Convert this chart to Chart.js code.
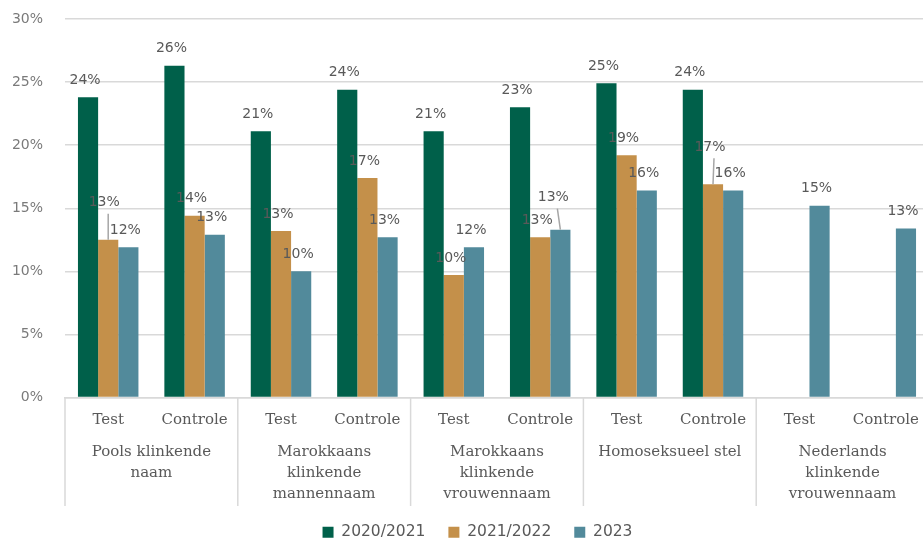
<!DOCTYPE html>
<html>
<head>
<meta charset="utf-8">
<script src="https://cdn.jsdelivr.net/npm/chart.js@4"></script>
<style>
  html, body { margin: 0; padding: 0; background: #fff; overflow: hidden; }
  #wrap { width: 940px; height: 550px; }
</style>
</head>
<body>
<div id="wrap"><canvas id="chart" width="940" height="550"></canvas></div>
<script>
//______________________________________________________
// data
var categories = ['Test', 'Controle', 'Test', 'Controle', 'Test', 'Controle',
                  'Test', 'Controle', 'Test', 'Controle'];
var groups = [
    ['Pools klinkende', 'naam'],
    ['Marokkaans', 'klinkende', 'mannennaam'],
    ['Marokkaans', 'klinkende', 'vrouwennaam'],
    ['Homoseksueel stel'],
    ['Nederlands', 'klinkende', 'vrouwennaam']
];
var seriesNames = ['2020/2021', '2021/2022', '2023'];
var values2021 = [23.8, 26.3, 21.1, 24.4, 21.1, 23.0, 24.9, 24.4, null, null];
var values2122 = [12.5, 14.4, 13.2, 17.4, 9.7, 12.7, 19.2, 16.9, null, null];
var values2023 = [11.9, 12.9, 10.0, 12.7, 11.9, 13.3, 16.4, 16.4, 15.2, 13.4];
var yTicks = [0, 5, 10, 15, 20, 25, 30];

const Colors = ['#00604A', '#C4904A', '#528A9B'];
const GridColor = '#d9d9d9';
const TextColor = '#595959';
// labels that were dragged up in the original, with a leader line
const MovedLabels = [
    {ds: 1, i: 0, lift: 20, dx: -4},
    {ds: 2, i: 5, lift: 15, dx: -7},
    {ds: 1, i: 7, lift: 20, dx: -3}
];

//______________________________________________________
const valueLabels = {
    id: 'valueLabels',
    afterDatasetsDraw(chart) {
        var ctx = chart.ctx;
        ctx.save();
        ctx.font = '14px "DejaVu Sans"';
        ctx.fillStyle = TextColor;
        ctx.textAlign = 'center';
        ctx.textBaseline = 'middle';
        chart.data.datasets.forEach(function(ds, d) {
            var meta = chart.getDatasetMeta(d);
            meta.data.forEach(function(bar, i) {
                var v = ds.data[i];
                if (v === null || v === undefined) return;
                var lift = 0, dx = -3, moved = null;
                MovedLabels.forEach(function(m) {
                    if (m.ds === d && m.i === i) { moved = m; lift = m.lift; dx = m.dx; }
                });
                var ly = bar.y - 17 - lift;
                if (moved) {
                    ctx.strokeStyle = '#a6a6a6';
                    ctx.lineWidth = 1.5;
                    ctx.beginPath();
                    ctx.moveTo(bar.x + dx + 4, ly + 11);
                    ctx.lineTo(bar.x, bar.y);
                    ctx.stroke();
                }
                ctx.fillText(Math.round(v) + '%', bar.x + dx, ly);
            });
        });
        ctx.restore();
    }
};
//______________________________________________________
const groupAxis = {
    id: 'groupAxis',
    afterLayout(chart) { // nudge the legend to where the original has it
        chart.legend.left += 13;
        chart.legend.right += 13;
    },
    afterDraw(chart) {
        var ctx = chart.ctx;
        var x = chart.scales.x;
        var area = chart.chartArea;
        var step = (x.getPixelForTick(1) - x.getPixelForTick(0)) * 2;
        ctx.save();
        ctx.strokeStyle = GridColor;
        ctx.lineWidth = 1.5;
        for (var g = 0; g < groups.length; g++) {
            var left = area.left + g * step;
            ctx.beginPath();
            ctx.moveTo(left, area.bottom);
            ctx.lineTo(left, 506);
            ctx.stroke();
        }
        ctx.font = '15px "DejaVu Serif"';
        ctx.fillStyle = TextColor;
        ctx.textAlign = 'center';
        ctx.textBaseline = 'middle';
        groups.forEach(function(lines, g) {
            var cx = (x.getPixelForTick(g * 2) + x.getPixelForTick(g * 2 + 1)) / 2;
            lines.forEach(function(line, k) {
                ctx.fillText(line, cx, 452 + k * 21);
            });
        });
        ctx.restore();
    }
};
//______________________________________________________
function makeDataset(name, values, color) {
    return {
        label: name,
        data: values,
        backgroundColor: color,
        borderWidth: 0,
        categoryPercentage: 0.7,
        barPercentage: 1.0
    };
}
//______________________________________________________
Chart.defaults.font.family = '"DejaVu Sans"';
Chart.defaults.color = TextColor;

var chart = new Chart('chart', {
    type: 'bar',
    data: {
        labels: categories,
        datasets: [
            makeDataset(seriesNames[0], values2021, Colors[0]),
            makeDataset(seriesNames[1], values2122, Colors[1]),
            makeDataset(seriesNames[2], values2023, Colors[2])
        ]
    },
    options: {
        responsive: false,
        animation: false,
        devicePixelRatio: 1,
        layout: { padding: { top: 19, right: 11, left: 0, bottom: 0 } },
        scales: {
            y: {
                min: 0, max: 30,
                afterFit: function(s) { s.width = 65; s.paddingTop = 0; s.paddingBottom = 0; },
                afterBuildTicks: function(s) { s.ticks = yTicks.map(function(v) { return {value: v}; }); },
                ticks: {
                    padding: 22,
                    color: '#7a7a7a',
                    font: { size: 14 },
                    callback: function(v) { return v + '%'; }
                },
                grid: { color: GridColor, lineWidth: 1.5, drawTicks: false },
                border: { display: false }
            },
            x: {
                afterFit: function(s) { s.height = 104; },
                ticks: {
                    padding: 6,
                    color: TextColor,
                    font: { family: '"DejaVu Serif"', size: 15 },
                    maxRotation: 0,
                    autoSkip: false
                },
                grid: { display: false },
                border: { display: true, color: GridColor, width: 1.5 }
            }
        },
        plugins: {
            legend: {
                position: 'bottom',
                labels: {
                    boxWidth: 11,
                    boxHeight: 11,
                    padding: 23,
                    color: TextColor,
                    font: { size: 15.5 }
                }
            },
            tooltip: { enabled: false }
        }
    },
    plugins: [valueLabels, groupAxis]
});
</script>
</body>
</html>
